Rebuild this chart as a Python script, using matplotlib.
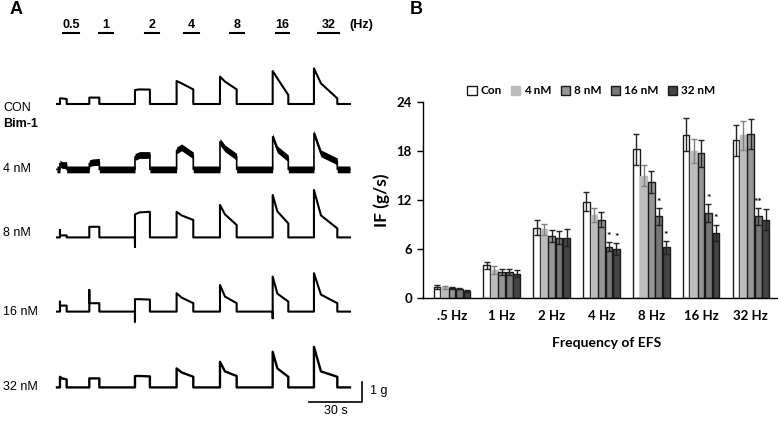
import numpy as np
import matplotlib
matplotlib.use("Agg")
import matplotlib.pyplot as plt

# ---------- panel A: isometric force traces ----------
trace_names = ["CON", "4 nM", "8 nM", "16 nM", "32 nM"]
stim_labels = ["0.5", "1", "2", "4", "8", "16", "32"]
# stimulus windows (s)
t_on = [1.7, 18.4, 44.4, 68.1, 92.8, 122.8, 146.3]
t_off = [5.5, 24.1, 52.9, 77.6, 102.3, 131.7, 159.6]
t_end = 166.8
# label bars above the traces (s)
bar_start = [3.2, 24.1, 50.1, 72.3, 98.5, 124.5, 148.7]
bar_stop = [12.5, 31.7, 58.3, 81.0, 106.7, 132.3, 160.7]

baselines = [15.85, 12.58, 9.18, 5.47, 1.68]   # g, vertical offset of each trace
peak_con = [0.28, 0.32, 0.70, 1.15, 1.37, 1.65, 1.78]
mid_con = [0.28, 0.32, 0.73, 1.03, 1.12, 1.28, 1.03]
end_con = [0.25, 0.32, 0.72, 0.73, 0.73, 0.45, 0.28]
spk_con = [0, 0, 0, 0, 0, 0, 0]

peak_4 = [0.30, 0.30, 0.62, 0.95, 1.38, 1.63, 1.80]
mid_4 = [0.22, 0.35, 0.72, 1.10, 1.05, 1.00, 0.80]
end_4 = [0.22, 0.38, 0.72, 0.70, 0.63, 0.55, 0.40]
spk_4 = [0, 0, 0, 0, 0, 0, 0]

peak_8 = [0.10, 0.53, 1.15, 1.28, 1.62, 2.12, 2.37]
mid_8 = [0.10, 0.53, 1.25, 1.10, 1.15, 1.30, 1.10]
end_8 = [0.10, 0.53, 1.28, 0.87, 0.62, 0.70, 0.45]
spk_8 = [0.37, 0, -0.47, 0, 0, 0, 0]

peak_16 = [0.30, 0.42, 0.62, 0.92, 1.33, 1.75, 1.92]
mid_16 = [0.30, 0.42, 0.62, 0.70, 0.75, 0.90, 0.85]
end_16 = [0.30, 0.42, 0.60, 0.42, 0.42, 0.50, 0.42]
spk_16 = [0.50, 1.08, -0.50, 0, 0, -0.33, 0]

peak_32 = [0.53, 0.45, 0.57, 0.95, 1.28, 1.78, 2.03]
mid_32 = [0.45, 0.45, 0.57, 0.75, 0.80, 0.95, 0.80]
end_32 = [0.40, 0.45, 0.55, 0.53, 0.57, 0.53, 0.53]
spk_32 = [0, 0, 0, 0, 0, 0, 0]

traces = [(peak_con, mid_con, end_con, spk_con),
          (peak_4, mid_4, end_4, spk_4),
          (peak_8, mid_8, end_8, spk_8),
          (peak_16, mid_16, end_16, spk_16),
          (peak_32, mid_32, end_32, spk_32)]
trace_lw = [1.5, 1.2, 1.5, 1.5, 1.7]
band = [0, 0.17, 0, 0, 0]   # 4 nM trace is a thick band of fast oscillation

# ---------- panel B: bar chart ----------
freqs = [".5 Hz", "1 Hz", "2 Hz", "4 Hz", "8 Hz", "16 Hz", "32 Hz"]
groups = ["Con", "4 nM", "8 nM", "16 nM", "32 nM"]
con = [1.35, 4.0, 8.6, 11.8, 18.2, 20.0, 19.3]
nm4 = [1.3, 3.4, 8.4, 10.2, 15.0, 18.0, 19.9]
nm8 = [1.25, 3.2, 7.6, 9.6, 14.2, 17.7, 20.1]
nm16 = [1.15, 3.2, 7.4, 6.3, 10.0, 10.4, 10.0]
nm32 = [0.85, 3.0, 7.4, 6.0, 6.2, 8.0, 9.6]
con_err = [0.2, 0.45, 0.9, 1.2, 1.9, 2.0, 1.9]
nm4_err = [0.15, 0.5, 0.7, 0.85, 1.3, 1.5, 1.8]
nm8_err = [0.1, 0.4, 0.7, 0.9, 1.3, 1.6, 1.8]
nm16_err = [0.1, 0.4, 0.8, 0.5, 1.05, 1.1, 1.05]
nm32_err = [0.1, 0.45, 1.0, 0.7, 0.8, 1.0, 1.3]
star_cat = [3, 3, 4, 4, 5, 5, 6]
star_grp = [3, 4, 3, 4, 3, 4, 3]
star_txt = ["*", "*", "*", "*", "*", "*", "**"]

W, H = 778, 421
fig = plt.figure(figsize=(W / 100, H / 100), dpi=100)


def fx(px):
    return px / W


def fy(py):
    return 1 - py / H


# panel A in seconds / grams
axa = fig.add_axes([0, 0, 390 / W, 1])
axa.set_xlim(-32.45, 189.6)
axa.set_ylim(0, H / 20)
axa.axis("off")

for k, (pk, md, en, sp) in enumerate(traces):
    b = baselines[k]
    t = [0]
    y = [b]
    for i in range(len(t_on)):
        t += [t_on[i]]
        y += [b]
        if sp[i] != 0:
            t += [t_on[i]]
            y += [b + sp[i]]
        t += [t_on[i], t_on[i] + 0.3 * (t_off[i] - t_on[i]), t_off[i], t_off[i]]
        y += [b + pk[i], b + md[i], b + en[i], b]
    t += [t_end]
    y += [b]
    t = np.array(t)
    y = np.array(y)
    if band[k] > 0:
        axa.fill_between(t, y - band[k], y + band[k], color="black", lw=0)
    axa.plot(t, y, color="black", lw=trace_lw[k])

for i, lab in enumerate(stim_labels):
    axa.plot([bar_start[i], bar_stop[i]], [19.39, 19.39], color="black", lw=1.5)
    axa.text((bar_start[i] + bar_stop[i]) / 2, 19.5, lab, ha="center", va="bottom",
             fontsize=9, fontweight="bold", family="Liberation Sans")
axa.text(166.5, 19.5, "(Hz)", ha="left", va="bottom", fontsize=9,
         fontweight="bold", family="Liberation Sans")

# scale bar: 30 s, 1 g
axa.plot([143.5, 173.5, 173.5], [0.965, 0.965, 1.965], color="black", lw=1.2)
axa.text(178, 1.5, "1 g", ha="left", va="center", fontsize=9, family="Liberation Sans")
axa.text(158.5, 0.48, "30 s", ha="center", va="center", fontsize=9,
         family="Liberation Sans")

lab_y = [108, 169, 233, 312, 387]
for k, name in enumerate(trace_names):
    fig.text(fx(3), fy(lab_y[k]), name, ha="left", va="center", fontsize=9,
             family="Liberation Sans")
fig.text(fx(3), fy(124), "Bim-1", ha="left", va="center", fontsize=9,
         fontweight="bold", family="Liberation Sans")
fig.text(fx(10), fy(9), "A", ha="left", va="center", fontsize=13,
         fontweight="bold", family="Liberation Sans")
fig.text(fx(410), fy(9), "B", ha="left", va="center", fontsize=13,
         fontweight="bold", family="Liberation Sans")

# panel B
axb = fig.add_axes([fx(423), fy(298), (W - 423) / W, (298 - 102) / H])
vals = [con, nm4, nm8, nm16, nm32]
errs = [con_err, nm4_err, nm8_err, nm16_err, nm32_err]
faces = ["white", "#bcbcbc", "#969696", "#777777", "#444444"]
edges = ["#1a1a1a", "#bcbcbc", "#1a1a1a", "#1a1a1a", "#1a1a1a"]
ecols = ["#222222", "#808080", "#222222", "#222222", "#222222"]
bw = 0.15
x = np.arange(len(freqs))
handles = []
for j in range(len(groups)):
    xs = x + (j - 2) * bw
    h = axb.bar(xs, vals[j], bw * 0.9, color=faces[j], edgecolor=edges[j],
                linewidth=1.0, label=groups[j], zorder=2)
    axb.errorbar(xs, vals[j], yerr=errs[j], fmt="none", ecolor=ecols[j],
                 elinewidth=1.0, capsize=2.3, capthick=1.0, zorder=3)
    handles.append(h)

for c, g, s in zip(star_cat, star_grp, star_txt):
    xs = c + (g - 2) * bw
    axb.text(xs, vals[g][c] + errs[g][c] + 0.15, s, ha="center", va="bottom",
             fontsize=7.5, fontweight="bold", family="Lato")

axb.set_xlim(-0.582, 6.546)
axb.set_ylim(0, 24)
axb.set_yticks([0, 6, 12, 18, 24])
axb.set_xticks(x)
axb.set_xticklabels(freqs)
axb.spines["top"].set_visible(False)
axb.spines["right"].set_visible(False)
axb.spines["left"].set_linewidth(1.0)
axb.spines["bottom"].set_linewidth(1.0)
axb.tick_params(axis="x", length=0, pad=9)
axb.tick_params(axis="y", length=4, width=1.0, pad=4)
for lab in axb.get_xticklabels() + axb.get_yticklabels():
    lab.set_fontweight("bold")
    lab.set_family("Lato")
    lab.set_fontsize(9.5)
axb.set_ylabel("IF (g/s)", fontsize=12.5, fontweight="bold", family="Lato", labelpad=5)
fig.text(fx(607), fy(343), "Frequency of EFS", ha="center", va="center",
         fontsize=10, fontweight="bold", family="Lato")

fig.legend(handles=handles, loc="center", bbox_to_anchor=(fx(591), fy(91)),
           ncol=5, frameon=False, handlelength=0.8, handleheight=0.8,
           handletextpad=0.3, columnspacing=0.8,
           prop={"family": "Lato", "weight": "bold", "size": 8.5})

fig.savefig("out.png", dpi=100)
